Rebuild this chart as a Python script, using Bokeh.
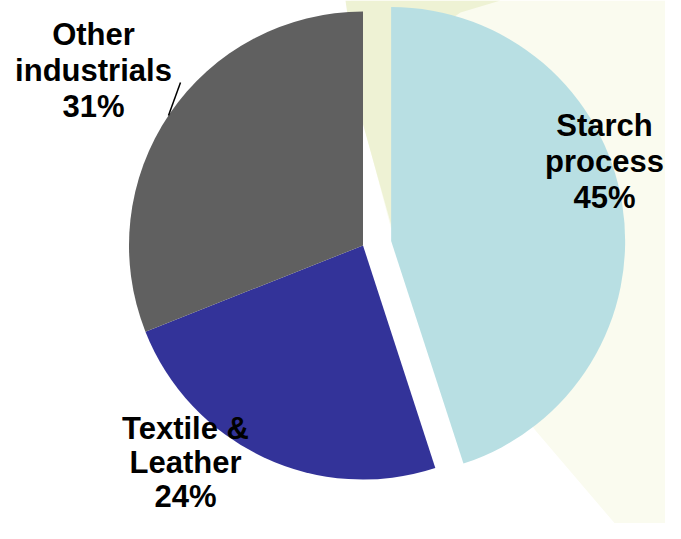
import numpy as np
from bokeh.plotting import figure
from bokeh.models import Range1d
from bokeh.embed import file_html
from bokeh.resources import INLINE
from bokeh.core.properties import value

# ---- data ----
categories = ["Starch\nprocess", "Textile &\nLeather", "Other\nindustrials"]
shares = [45, 24, 31]
pct_labels = ["45%", "24%", "31%"]
colors = ["#b8dfe3", "#333399", "#606060"]

# ---- layout (picture pixel coords) ----
W, H = 665, 523
def X(px):
    return px
def Y(py):
    return H - py

p = figure(width=W, height=H, x_range=Range1d(0, W), y_range=Range1d(0, H),
           output_backend="svg", toolbar_location=None, min_border=0)
p.axis.visible = False
p.grid.visible = False
p.outline_line_color = None
p.background_fill_color = "white"
p.border_fill_color = "white"

# decorative faint background shapes
bgA = [(350, 0), (681, 0), (681, 539), (628, 539), (535, 430), (460, 330), (395, 245), (362, 120)]
bgB = [(330, 0), (500, 0), (460, 12), (420, 40), (395, 240), (362, 122), (345, 0)]
for poly, col in ((bgA, "#fafbef"), (bgB, "#eef2d4")):
    p.patch([X(a) for a, b in poly], [Y(b) for a, b in poly], fill_color=col, line_color=None)

cx, cy = X(362.5), Y(245)
R = 234
explode = [28.5, 0, 0]

start = 90.0
cum = 0.0
for share, col, ex in zip(shares, colors, explode):
    a0 = start - cum * 3.6
    a1 = a0 - share * 3.6
    cum += share
    mid = np.radians((a0 + a1) / 2)
    ox, oy = ex * np.cos(mid), ex * np.sin(mid)
    p.wedge(x=cx + ox, y=cy + oy, radius=R, start_angle=np.radians(a1), end_angle=np.radians(a0),
            fill_color=col, line_color=None)

# labels: (center x, first line position, line spacing)
anchors = [(604, 125, 36), (185, 428, 34), (93, 34, 36)]
for cat, pct, (ax, ay, sp) in zip(categories, pct_labels, anchors):
    lines = cat.split("\n") + [pct]
    xs = [X(ax)] * len(lines)
    ys = [Y(ay + i * sp) for i in range(len(lines))]
    p.text(x=xs, y=ys, text=lines, text_align="center", text_baseline="alphabetic",
           text_font=value("Liberation Sans"), text_font_style="bold",
           text_font_size="31px", text_color="black")

# leader line for Other industrials
p.line([X(180), X(168)], [Y(82), Y(115)], line_color="black", line_width=1.5)

open("out.html", "w").write(file_html(p, INLINE))
